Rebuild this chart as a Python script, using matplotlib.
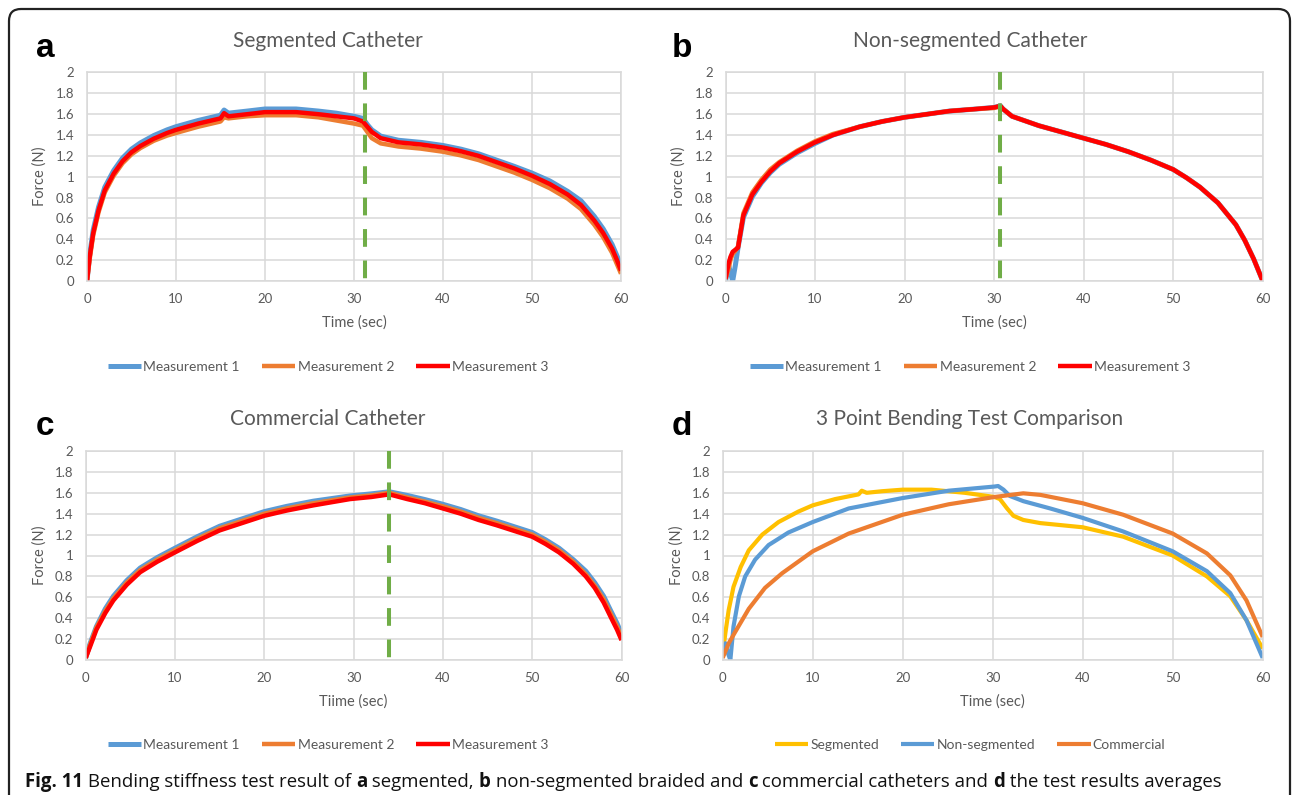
import matplotlib
matplotlib.use("Agg")
import matplotlib.pyplot as plt
from matplotlib.patches import FancyBboxPatch
from matplotlib.transforms import IdentityTransform

# ---- data (time in s, force in N) ----
t_seg = [0, 0.3, 0.7, 1.3, 2, 3, 4, 5, 6, 7.5, 9, 10, 12.5, 15, 15.4, 15.9, 18, 20, 23.5, 26, 28, 30,
         31, 31.5, 32, 33, 35, 37.5, 40, 42, 44, 46, 48, 50, 52, 54, 55.5, 57, 58, 59, 59.5, 60]
seg_m1 = [0, 0.25, 0.49, 0.71, 0.90, 1.06, 1.18, 1.265, 1.325, 1.395, 1.45, 1.48, 1.54, 1.59, 1.64,
          1.61, 1.63, 1.65, 1.65, 1.63, 1.61, 1.58, 1.56, 1.50, 1.45, 1.39, 1.35, 1.33, 1.30, 1.265,
          1.22, 1.16, 1.10, 1.035, 0.96, 0.86, 0.77, 0.62, 0.50, 0.35, 0.25, 0.15]
seg_m2 = [0, 0.21, 0.44, 0.66, 0.85, 1.01, 1.13, 1.215, 1.275, 1.345, 1.395, 1.42, 1.48, 1.53, 1.57,
          1.56, 1.58, 1.59, 1.59, 1.57, 1.54, 1.51, 1.49, 1.43, 1.37, 1.32, 1.29, 1.27, 1.24, 1.205,
          1.16, 1.10, 1.04, 0.97, 0.89, 0.79, 0.69, 0.54, 0.42, 0.27, 0.17, 0.07]
seg_m3 = [0, 0.23, 0.46, 0.68, 0.87, 1.03, 1.15, 1.235, 1.295, 1.365, 1.42, 1.45, 1.51, 1.56, 1.61,
          1.58, 1.60, 1.62, 1.62, 1.60, 1.58, 1.56, 1.53, 1.48, 1.43, 1.37, 1.33, 1.31, 1.28, 1.245,
          1.20, 1.14, 1.08, 1.01, 0.93, 0.83, 0.73, 0.58, 0.46, 0.31, 0.21, 0.10]

t_non = [0, 0.35, 0.55, 0.8, 1.1, 1.4, 2, 3, 4, 5, 6, 8, 10, 12, 15, 17.5, 20, 22.5, 25, 28, 30, 30.7,
         31, 32, 33, 35, 37.5, 40, 42.5, 45, 47.5, 50, 51.5, 53, 55, 57, 58, 59, 60]
non_m1 = [0.0, 0.15, 0.08, 0.0, 0.15, 0.32, 0.61, 0.81, 0.94, 1.04, 1.12, 1.23, 1.32, 1.40, 1.48, 1.53,
          1.57, 1.60, 1.63, 1.65, 1.665, 1.68, 1.65, 1.58, 1.55, 1.49, 1.43, 1.37, 1.31, 1.24, 1.16,
          1.07, 0.99, 0.90, 0.75, 0.54, 0.39, 0.21, 0.0]
non_m2 = [0.02, 0.12, 0.20, 0.26, 0.29, 0.33, 0.65, 0.85, 0.97, 1.07, 1.14, 1.25, 1.34, 1.41, 1.48,
          1.53, 1.57, 1.60, 1.63, 1.65, 1.66, 1.675, 1.65, 1.58, 1.55, 1.49, 1.43, 1.37, 1.31, 1.24,
          1.16, 1.07, 0.99, 0.90, 0.75, 0.54, 0.39, 0.21, 0.0]
non_m3 = [0.02, 0.17, 0.23, 0.28, 0.30, 0.32, 0.63, 0.83, 0.95, 1.05, 1.13, 1.24, 1.33, 1.40, 1.48,
          1.53, 1.57, 1.60, 1.63, 1.65, 1.665, 1.68, 1.65, 1.58, 1.55, 1.49, 1.43, 1.37, 1.31, 1.24,
          1.16, 1.07, 0.99, 0.90, 0.75, 0.54, 0.39, 0.21, 0.0]

t_com = [0, 0.5, 1.2, 2.2, 3.1, 4.6, 6.1, 8, 10, 12.5, 15, 17.5, 20, 22.5, 25.5, 29.6, 32, 34, 36, 38,
         40, 42, 44, 46, 48, 50, 51.5, 53, 54.6, 56, 57, 58, 58.8, 59.5, 60]
com_m1 = [0.02, 0.16, 0.32, 0.49, 0.61, 0.76, 0.88, 0.98, 1.07, 1.18, 1.28, 1.35, 1.42, 1.47, 1.52,
          1.57, 1.59, 1.61, 1.575, 1.535, 1.49, 1.44, 1.38, 1.33, 1.275, 1.22, 1.15, 1.07, 0.96, 0.85,
          0.74, 0.61, 0.47, 0.35, 0.25]
com_m2 = [0.02, 0.15, 0.31, 0.47, 0.59, 0.74, 0.86, 0.96, 1.05, 1.16, 1.26, 1.33, 1.40, 1.45, 1.50,
          1.555, 1.575, 1.60, 1.555, 1.515, 1.47, 1.42, 1.36, 1.31, 1.255, 1.20, 1.13, 1.05, 0.94, 0.82,
          0.71, 0.58, 0.44, 0.32, 0.22]
com_m3 = [0.02, 0.13, 0.29, 0.45, 0.57, 0.72, 0.84, 0.94, 1.03, 1.14, 1.24, 1.31, 1.38, 1.43, 1.48,
          1.54, 1.56, 1.585, 1.54, 1.50, 1.45, 1.40, 1.34, 1.29, 1.235, 1.18, 1.11, 1.03, 0.92, 0.80,
          0.69, 0.55, 0.41, 0.29, 0.19]

t_avg_seg = [0, 0.3, 0.67, 1.2, 2, 2.9, 4.4, 6.2, 8.4, 10, 12.5, 15.1, 15.45, 16, 17.7, 20, 23.2, 26.9,
             30.2, 30.8, 31.6, 32.3, 33.4, 35.3, 40, 44.5, 50, 53.8, 56.4, 58.2, 60]
avg_seg = [0.06, 0.26, 0.48, 0.70, 0.89, 1.05, 1.20, 1.32, 1.42, 1.48, 1.54, 1.585, 1.62, 1.60, 1.615,
           1.63, 1.63, 1.60, 1.56, 1.54, 1.45, 1.38, 1.34, 1.31, 1.27, 1.18, 1.00, 0.80, 0.61, 0.38, 0.11]
t_avg_non = [0, 0.3, 0.6, 0.85, 1.2, 1.8, 2.5, 3.6, 5.1, 7.3, 10, 14, 20, 25.1, 30.2, 30.6, 31.2, 31.9,
             33.4, 36.4, 40, 44.5, 50, 53.8, 56.4, 58.2, 60]
avg_non = [0.03, 0.16, 0.06, 0.0, 0.32, 0.61, 0.80, 0.96, 1.10, 1.22, 1.32, 1.45, 1.55, 1.62, 1.66,
           1.665, 1.63, 1.57, 1.52, 1.45, 1.36, 1.23, 1.04, 0.85, 0.64, 0.38, 0.02]
t_avg_com = [0, 0.67, 1.4, 2.9, 4.7, 6.6, 10, 14, 20, 25.1, 30.2, 33.4, 35.3, 40, 44.5, 50, 53.8, 56.4,
             58.2, 60]
avg_com = [0.02, 0.16, 0.27, 0.49, 0.69, 0.83, 1.04, 1.21, 1.39, 1.49, 1.56, 1.595, 1.58, 1.50, 1.39,
           1.21, 1.02, 0.81, 0.57, 0.22]

split_time = [31.2, 30.7, 34.0]
meas_names = ["Measurement 1", "Measurement 2", "Measurement 3"]
avg_names = ["Segmented", "Non-segmented", "Commercial"]
titles = ["Segmented Catheter", "Non-segmented Catheter", "Commercial Catheter",
          "3 Point Bending Test Comparison"]
xlabels = ["Time (sec)", "Time (sec)", "Tiime (sec)", "Time (sec)"]
letters = ["a", "b", "c", "d"]

BLUE, ORANGE, RED = "#5B9BD5", "#ED7D31", "#FF0000"
YELLOW, GREEN = "#FFC000", "#70AD47"
GRID, TXT = "#D9D9D9", "#595959"

W, H = 1292, 795
fig = plt.figure(figsize=(W / 100, H / 100), dpi=100)
plt.rcParams["font.family"] = ["Lato", "DejaVu Sans"]


def box(x0, y0, x1, y1):
    return [x0 / W, 1 - y1 / H, (x1 - x0) / W, (y1 - y0) / H]


axes_px = [(87, 72.5, 621, 281), (725.5, 72.5, 1262.7, 281),
           (85.7, 451, 621.5, 660), (722.7, 451, 1262.7, 660)]
chart_cx = [328, 970, 328, 970]
title_y = [41, 41, 419, 419]
letter_xy = [(45, 57), (682, 57), (45, 435), (682, 435)]
legend_y = [367, 367, 745, 745]
ylab_x = [40, 679, 40, 677]

series = [
    [(t_seg, seg_m1, BLUE, 3.6), (t_seg, seg_m2, ORANGE, 3.2), (t_seg, seg_m3, RED, 3.2)],
    [(t_non, non_m1, BLUE, 3.6), (t_non, non_m2, ORANGE, 3.2), (t_non, non_m3, RED, 3.2)],
    [(t_com, com_m1, BLUE, 3.6), (t_com, com_m2, ORANGE, 3.2), (t_com, com_m3, RED, 3.2)],
    [(t_avg_seg, avg_seg, YELLOW, 3.0), (t_avg_non, avg_non, BLUE, 3.0), (t_avg_com, avg_com, ORANGE, 3.0)],
]

for i in range(4):
    x0, y0, x1, y1 = axes_px[i]
    ax = fig.add_axes(box(x0, y0, x1, y1))
    names = avg_names if i == 3 else meas_names
    for (t, f, c, lw), name in zip(series[i], names):
        ax.plot(t, f, color=c, lw=lw, label=name, solid_joinstyle="round", solid_capstyle="butt")
    if i < 3:
        ax.plot([split_time[i], split_time[i]], [2, 0], color=GREEN, lw=2.9,
                dashes=(4.4, 3.4), dash_capstyle="butt", zorder=5)
    ax.set_xlim(0, 60)
    ax.set_ylim(0, 2)
    ax.set_xticks(range(0, 61, 10))
    ax.set_yticks([k / 5 for k in range(11)])
    ax.set_yticklabels(["0", "0.2", "0.4", "0.6", "0.8", "1", "1.2", "1.4", "1.6", "1.8", "2"])
    ax.grid(True, color=GRID, lw=1.1)
    ax.set_axisbelow(True)
    for s in ax.spines.values():
        s.set_color(GRID)
        s.set_linewidth(1.1)
    ax.tick_params(length=0, labelsize=9.5, labelcolor=TXT)
    ax.tick_params(axis="y", pad=9)
    ax.tick_params(axis="x", pad=9)
    ax.set_xlabel(xlabels[i], fontsize=10.5, color=TXT, labelpad=7)
    fig.text(ylab_x[i] / W, 1 - ((y0 + y1) / 2) / H, "Force (N)", rotation=90,
             fontsize=10.5, color=TXT, ha="center", va="center")
    fig.text(chart_cx[i] / W, 1 - title_y[i] / H, titles[i], fontsize=15, color=TXT,
             ha="center", va="center")
    fig.text(letter_xy[i][0] / W, 1 - letter_xy[i][1] / H, letters[i], fontsize=24,
             fontweight="bold", family="Liberation Sans", ha="center", va="baseline")
    fig.legend(*ax.get_legend_handles_labels(), loc="center", ncol=3, frameon=False,
               bbox_to_anchor=(chart_cx[i] / W, 1 - legend_y[i] / H), fontsize=10,
               labelcolor=TXT, handlelength=2.4, handletextpad=0.15, columnspacing=1.6)

# rounded frame around the figure
frame = FancyBboxPatch((9, -30), 1281, 786 + 30, boxstyle="round,pad=0,rounding_size=12",
                       transform=IdentityTransform(), fill=False, ec="#222222", lw=1.6,
                       clip_on=False)
fig.patches.append(frame)

# caption with bold parts
caption = [("Fig. 11", "bold"), (" Bending stiffness test result of ", "normal"), ("a", "bold"),
           (" segmented, ", "normal"), ("b", "bold"), (" non-segmented braided and ", "normal"),
           ("c", "bold"), (" commercial catheters and ", "normal"), ("d", "bold"),
           (" the test results averages", "normal")]
renderer = fig.canvas.get_renderer()
xpos = 25
for txt, wgt in caption:
    t = fig.text(xpos / W, 1 - 787 / H, txt, fontsize=13.4, fontweight=wgt, family="Open Sans",
                 color="#111111", ha="left", va="baseline")
    xpos += t.get_window_extent(renderer).width

fig.savefig("out.png", dpi=100)
